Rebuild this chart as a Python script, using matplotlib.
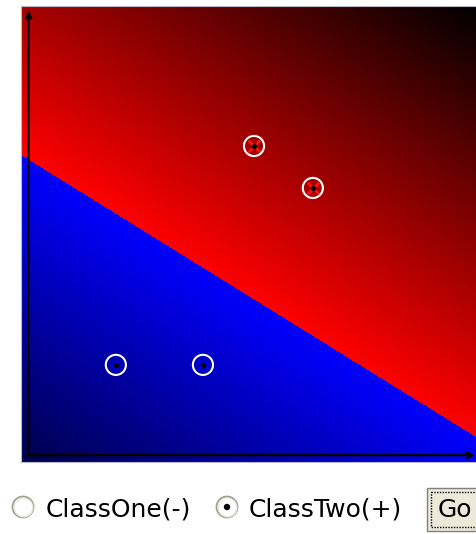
import numpy as np
import matplotlib.pyplot as plt
from matplotlib.patches import Circle, Rectangle

# ── Decision boundary: w0*x + w1*y + bias = 0 (unit square) ──
w = [0.62, 1.0]
bias = -0.673

# ── Training points ──
plus_x = [0.511, 0.640]
plus_y = [0.693, 0.601]
minus_x = [0.208, 0.399]
minus_y = [0.213, 0.213]

radio_labels = ["ClassOne(-)", "ClassTwo(+)"]
selected = 1
button_text = "Go"

W, H = 477, 534
fig = plt.figure(figsize=(W / 100, H / 100), dpi=100)
fig.patch.set_facecolor("white")

# ── Classifier surface ──
ax = fig.add_axes([21 / W, (H - 462) / H, 456 / W, 456 / H])
grid = np.linspace(0, 1, 456)
X, Y = np.meshgrid(grid, grid)
m = w[0] * X + w[1] * Y + bias
mmax = w[0] + w[1] + bias
shade = np.clip(1 - np.abs(m) / mmax, 0, 1)
img = np.zeros(X.shape + (3,))
img[..., 0] = np.where(m > 0, shade, 0)
img[..., 2] = np.where(m <= 0, shade, 0)
ax.imshow(img, origin="lower", extent=[0, 1, 0, 1], interpolation="nearest", aspect="auto")
ax.set_xlim(0, 1)
ax.set_ylim(0, 1)
ax.set_xticks([])
ax.set_yticks([])
for s in ax.spines.values():
    s.set_color("#b8b8c8")
    s.set_linewidth(0.8)

# axes arrows
ax0 = 0.0165
ax.annotate("", xy=(ax0, 0.99), xytext=(ax0, 0.015),
            arrowprops=dict(arrowstyle="->", lw=1.6, color="black", shrinkA=0, shrinkB=0))
ax.annotate("", xy=(0.995, 0.015), xytext=(ax0, 0.015),
            arrowprops=dict(arrowstyle="->", lw=1.6, color="black", shrinkA=0, shrinkB=0))

# points
ax.scatter(plus_x, plus_y, marker="x", s=70, c="#ff1010", linewidths=2.0, zorder=3)
ax.scatter(plus_x, plus_y, marker="o", s=7, c="black", zorder=4)
ax.scatter(minus_x, minus_y, marker="o", s=55, c="#0000c8", zorder=3)
ax.scatter(minus_x, minus_y, marker="o", s=7, c="black", zorder=4)
ax.scatter(plus_x + minus_x, plus_y + minus_y, s=210, facecolors="none",
           edgecolors="white", linewidths=1.5, zorder=5)

# ── Controls strip ──
ui = fig.add_axes([0, 0, 1, (H - 462) / H])
ui.set_xlim(0, W)
ui.set_ylim(H, 462)
ui.axis("off")

radio_x = [23, 227]
text_x = [46, 249]
for i, (rx, tx, lab) in enumerate(zip(radio_x, text_x, radio_labels)):
    ui.add_patch(Circle((rx, 507), 10.5, facecolor="white", edgecolor="#a0a090", lw=1.3))
    ui.add_patch(Circle((rx + 0.6, 507.6), 9.2, facecolor="none", edgecolor="#eeeae0", lw=1.0))
    if i == selected:
        ui.add_patch(Circle((rx, 507), 3.2, facecolor="black", edgecolor="none"))
    ui.text(tx, 509, lab, fontsize=18, family="DejaVu Sans", va="center", ha="left", color="black")

ui.add_patch(Rectangle((427, 488), 60, 43, facecolor="#ece9d8", edgecolor="#808080", lw=1.0))
ui.add_patch(Rectangle((431, 492), 52, 35, facecolor="none", edgecolor="black", lw=1.0, linestyle=(0, (1, 1))))
ui.text(438, 510, button_text, fontsize=18, family="DejaVu Sans", va="center", ha="left", color="black")

fig.savefig("out.png", dpi=100)
